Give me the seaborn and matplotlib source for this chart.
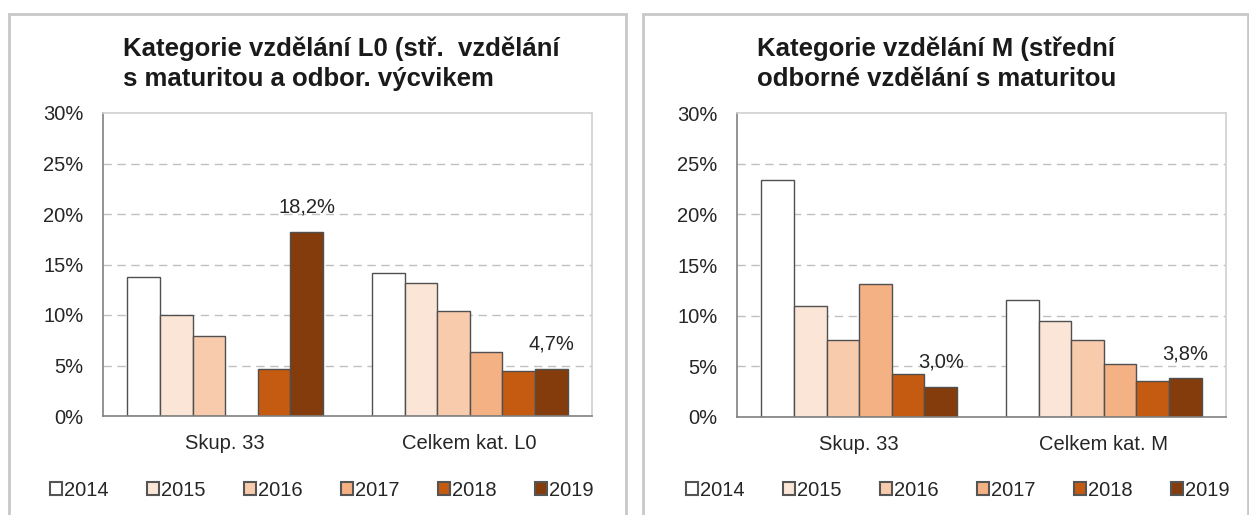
import numpy as np
import pandas as pd
import matplotlib
matplotlib.use("Agg")
import matplotlib.pyplot as plt
from matplotlib.patches import Rectangle
from matplotlib.ticker import FuncFormatter, FixedLocator
import seaborn as sns


YEARS = ["2014", "2015", "2016", "2017", "2018", "2019"]
COLORS = ["#FFFFFF", "#FBE5D6", "#F8CBAD", "#F4B183", "#C55A11", "#843C0C"]

L0_TITLE = "Kategorie vzdělání L0 (stř.  vzdělání\ns maturitou a odbor. výcvikem"
L0_GROUPS = ["Skup. 33", "Celkem kat. L0"]
L0_SKUP = [13.8, 10.0, 7.9, np.nan, 4.7, 18.2]
L0_CELKEM = [14.2, 13.2, 10.4, 6.3, 4.5, 4.7]

M_TITLE = "Kategorie vzdělání M (střední\nodborné vzdělání s maturitou"
M_GROUPS = ["Skup. 33", "Celkem kat. M"]
M_SKUP = [23.4, 11.0, 7.6, 13.1, 4.2, 3.0]
M_CELKEM = [11.5, 9.5, 7.6, 5.2, 3.6, 3.8]

TEXT = "#262626"
FS = 14.5


def to_frame(groups, first, second):
    rows = []
    for group, values in zip(groups, [first, second]):
        for year, v in zip(YEARS, values):
            rows.append({"group": group, "year": year, "value": v})
    return pd.DataFrame(rows)


def draw_panel(fig, rect, title, title_x, groups, first, second, legend_x):
    ax = fig.add_axes(rect)
    df = to_frame(groups, first, second)
    sns.barplot(
        data=df, x="group", y="value", hue="year",
        order=groups, hue_order=YEARS, palette=COLORS, saturation=1,
        width=0.8, edgecolor="#505050", linewidth=1.0,
        ax=ax, legend=True,
    )

    ax.set_ylim(0, 30)
    ax.set_xlim(-0.5, 1.5)
    ax.yaxis.set_major_locator(FixedLocator([0, 5, 10, 15, 20, 25, 30]))
    ax.yaxis.set_major_formatter(FuncFormatter(lambda v, _: f"{int(v)}%"))
    for y in [5, 10, 15, 20, 25]:
        ax.axhline(y, color="#c0c0c0", lw=1.0, ls=(0, (6, 4)), zorder=0)

    ax.set_xlabel("")
    ax.set_ylabel("")
    ax.tick_params(axis="y", length=5, width=1, color="#808080",
                   pad=9, labelsize=FS, labelcolor=TEXT)
    ax.tick_params(axis="x", which="major", length=0, pad=13,
                   labelsize=FS, labelcolor=TEXT)
    ax.xaxis.set_minor_locator(FixedLocator([-0.5, 0.5, 1.5]))
    ax.tick_params(axis="x", which="minor", length=6, width=1, color="#808080")

    for side in ["left", "bottom"]:
        ax.spines[side].set_color("#808080")
        ax.spines[side].set_linewidth(1.2)
    for side in ["top", "right"]:
        ax.spines[side].set_color("#d0d0d0")
        ax.spines[side].set_linewidth(1.2)

    last = ax.containers[-1]
    vals = [first[-1], second[-1]]
    ax.bar_label(last, labels=[f"{v:.1f}%".replace(".", ",") for v in vals],
                 padding=11, fontsize=FS, color=TEXT)

    handles, labels = ax.get_legend_handles_labels()
    for h in handles:
        h.set_edgecolor("#555555")
        h.set_linewidth(1.5)
    ax.legend(handles, labels, ncol=6, loc="center",
              bbox_to_anchor=(legend_x, 1 - 490 / 515),
              bbox_transform=fig.transFigure, frameon=False,
              fontsize=FS, handlelength=0.6, handleheight=0.6,
              handletextpad=0.1, columnspacing=1.9, labelcolor=TEXT)

    fig.text(title_x, 1 - 64 / 515, title, ha="left", va="center",
             fontsize=18.5, fontweight="bold", color="#1a1a1a",
             linespacing=1.3)
    return ax


sns.set_theme(style="white")
plt.rcParams["font.family"] = ["Liberation Sans", "DejaVu Sans"]

W, H = 1249, 515
fig = plt.figure(figsize=(W / 100, H / 100), dpi=100)

# panel frames
for x0, x1 in [(9, 626), (643, 1248)]:
    fig.patches.append(Rectangle((x0 / W, -0.1), (x1 - x0) / W, 1.1 - 14 / H,
                                 transform=fig.transFigure, fill=False,
                                 edgecolor="#c8c8c8", lw=2))

draw_panel(fig, [103 / W, 1 - 416 / H, (592 - 103) / W, (416 - 113) / H],
           L0_TITLE, 123 / W, L0_GROUPS, L0_SKUP, L0_CELKEM, 322 / W)
draw_panel(fig, [737 / W, 1 - 417 / H, (1226 - 737) / W, (417 - 113) / H],
           M_TITLE, 757 / W, M_GROUPS, M_SKUP, M_CELKEM, 958 / W)

fig.savefig("out.png", dpi=100)
